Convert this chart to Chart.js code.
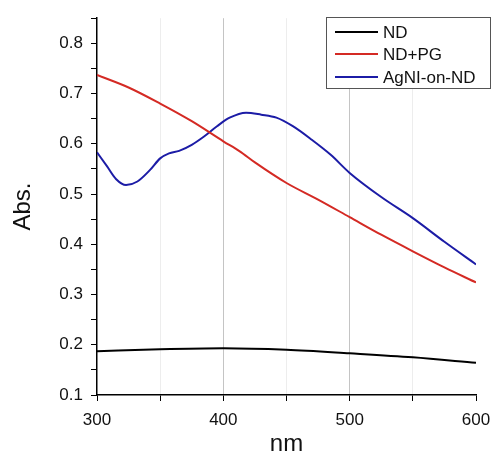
<!DOCTYPE html>
<html>
<head>
<meta charset="utf-8">
<script src="https://cdn.jsdelivr.net/npm/chart.js@4/dist/chart.umd.min.js"></script>
<style>
  html, body { margin: 0; padding: 0; background: #fff; }
  #wrap { width: 494px; height: 456px; }
</style>
</head>
<body>
<div id="wrap"><canvas id="grafico" width="494" height="456"></canvas></div>
<script>
// Datos (longitud de onda en nm, absorbancia)
const ndNm = [300, 350, 400, 450, 500, 550, 600];
const ndAbs = [0.187, 0.191, 0.193, 0.190, 0.183, 0.175, 0.164];

const ndpgNm = [300, 325, 350, 375, 400, 413, 425, 450, 475, 500, 525, 550, 575, 600];
const ndpgAbs = [0.737, 0.712, 0.680, 0.645, 0.605, 0.585, 0.563, 0.522, 0.489, 0.454, 0.419, 0.386, 0.354, 0.324];

const agniNm = [300, 308, 315, 323, 332, 342, 350, 357, 365, 375, 385, 395, 405, 418, 430, 442, 455, 470, 485, 500, 525, 550, 575, 600];
const agniAbs = [0.583, 0.555, 0.530, 0.518, 0.525, 0.548, 0.571, 0.581, 0.586, 0.598, 0.615, 0.635, 0.652, 0.662, 0.658, 0.652, 0.635, 0.608, 0.578, 0.542, 0.494, 0.452, 0.405, 0.360];

const series = [
  { label: "ND", nm: ndNm, abs: ndAbs, color: "#000000" },
  { label: "ND+PG", nm: ndpgNm, abs: ndpgAbs, color: "#d42a24" },
  { label: "AgNI-on-ND", nm: agniNm, abs: agniAbs, color: "#1c1ca6" },
];

const FONT = "'Liberation Sans', Arial, sans-serif";

// Leyenda con recuadro dentro del área del gráfico
const leyendaCaja = {
  id: "leyendaCaja",
  afterDraw(chart) {
    const ctx = chart.ctx;
    ctx.save();
    ctx.strokeStyle = "#555";
    ctx.lineWidth = 1;
    ctx.fillStyle = "#fff";
    ctx.fillRect(326.5, 17.5, 164, 71);
    ctx.strokeRect(326.5, 17.5, 164, 71);
    ctx.font = "17px " + FONT;
    ctx.textBaseline = "middle";
    const filas = [32, 54, 77];
    chart.data.datasets.forEach((ds, i) => {
      ctx.strokeStyle = ds.borderColor;
      ctx.lineWidth = 2;
      ctx.beginPath();
      ctx.moveTo(335, filas[i]);
      ctx.lineTo(378, filas[i]);
      ctx.stroke();
      ctx.fillStyle = "#111";
      ctx.fillText(ds.label, 383, filas[i] + 1);
    });
    ctx.restore();
  },
};

new Chart(document.getElementById("grafico").getContext("2d"), {
  type: "line",
  data: {
    datasets: series.map((s) => ({
      label: s.label,
      data: s.nm.map((x, i) => ({ x: x, y: s.abs[i] })),
      borderColor: s.color,
      borderWidth: 2,
      pointRadius: 0,
      cubicInterpolationMode: "monotone",
      fill: false,
    })),
  },
  options: {
    responsive: false,
    animation: false,
    layout: { padding: { top: 14, right: 18, left: 0, bottom: 0 } },
    plugins: {
      legend: { display: false },
      tooltip: { enabled: false },
    },
    scales: {
      x: {
        type: "linear",
        min: 300,
        max: 600,
        afterFit: (s) => {
          s.height = 61;
          s.paddingLeft = 0;
          s.paddingRight = 0;
        },
        ticks: {
          stepSize: 50,
          color: "#111",
          font: { family: FONT, size: 17 },
          padding: 9,
          maxRotation: 0,
          callback: (v) => (v % 100 === 0 ? String(v) : ""),
        },
        grid: {
          color: (c) => {
            const v = c.tick ? c.tick.value : null;
            if (v === 400 || v === 500) return "#c4c4c4";
            if (v === 350 || v === 450 || v === 550) return "#ededed";
            return "rgba(0,0,0,0)";
          },
          tickColor: "#000",
          tickLength: 6,
        },
        border: { color: "#000", width: 1.5 },
        title: {
          display: true,
          text: "nm",
          color: "#111",
          font: { family: FONT, size: 24, lineHeight: 1.0 },
          padding: { top: 0, bottom: 0 },
        },
      },
      y: {
        type: "linear",
        min: 0.1,
        max: 0.85,
        afterFit: (s) => { s.width = 97; },
        ticks: {
          stepSize: 0.05,
          color: "#111",
          font: { family: FONT, size: 17 },
          padding: 8,
          callback: (v) => (Math.round(v * 100) % 10 === 0 ? v.toFixed(1) : ""),
        },
        grid: {
          drawOnChartArea: false,
          tickColor: "#000",
          tickLength: 6,
        },
        border: { color: "#000", width: 1.5 },
        title: {
          display: true,
          text: "Abs.",
          color: "#111",
          font: { family: FONT, size: 24 },
          padding: { top: 9, bottom: 0 },
        },
      },
    },
  },
  plugins: [leyendaCaja],
});
</script>
</body>
</html>
